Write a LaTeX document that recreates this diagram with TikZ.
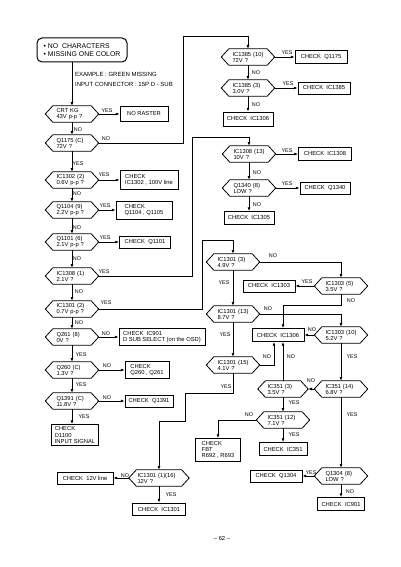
\documentclass[tikz,border=0pt]{standalone}
\usepackage{fontspec}
\setmainfont{Liberation Sans}
\usetikzlibrary{arrows.meta}
\begin{document}
\begin{tikzpicture}[x=1pt,y=-1pt,
  base/.style={font=\fontsize{5.8}{6.1}\selectfont},
  hexa/.style={base, rectangle, minimum width=53pt, minimum height=16pt,
    text width=31pt, align=left, inner xsep=1pt, inner ysep=1pt,
    append after command={\pgfextra{\draw[line width=0.8pt]
      (\tikzlastnode.west) -- ([xshift=7.5pt]\tikzlastnode.north west)
      -- ([xshift=-7.5pt]\tikzlastnode.north east) -- (\tikzlastnode.east)
      -- ([xshift=-7.5pt]\tikzlastnode.south east)
      -- ([xshift=7.5pt]\tikzlastnode.south west) -- cycle;}}},
  box/.style={base, draw, line width=0.8pt, rectangle, minimum height=12pt, inner xsep=3pt, inner ysep=1.5pt},
  mbox/.style={box, align=left},
  startbox/.style={draw, line width=1pt, rounded corners=5pt, align=left,
    font=\fontsize{6.9}{8.2}\selectfont, minimum width=90pt, minimum height=24pt, inner xsep=4pt},
  note/.style={font=\fontsize{6}{6.5}\selectfont, inner sep=0pt, anchor=west},
  lab/.style={font=\fontsize{5.4}{5.4}\selectfont, inner sep=0pt},
  arr/.style={line width=0.8pt, -{Latex[length=3.8pt,width=3pt]}},
]
\fill[white] (0,0) rectangle (400,567);
\useasboundingbox (0,0) rectangle (400,567);

% start
\node[startbox] (s) at (82,50) {\textbullet\ NO\ \ CHARACTERS\\\textbullet\ MISSING ONE COLOR};
\node[note] (e1) at (75,74) {EXAMPLE : GREEN MISSING};
\node[note] (e2) at (75,84) {INPUT CONNECTOR : 15P D - SUB};

% left column
\node[hexa] (d1) at (72,114) {CRT KG\\43V p-p ?};
\node[hexa] (d2) at (72,143) {Q1175 (C)\\72V ?};
\node[hexa] (d5) at (72,180) {IC1302 (2)\\0.6V p-p ?};
\node[hexa] (d6) at (72,210) {Q1104 (9)\\2.2V p-p ?};
\node[hexa] (d7) at (72,242) {Q1101 (6)\\2.1V p-p ?};
\node[hexa] (d8) at (72,276) {IC1308 (1)\\2.1V ?};
\node[hexa] (d11) at (72,309) {IC1301 (2)\\0.7V p-p ?};
\node[hexa] (d22) at (72,337) {Q261 (8)\\0V ?};
\node[hexa] (d23) at (72,370) {Q260 (C)\\1.3V ?};
\node[hexa] (d24) at (72,401) {Q1391 (C)\\11.8V ?};

\node[box, minimum width=48pt, minimum height=15pt] (b1) at (144,114) {NO RASTER};
\node[mbox, minimum width=58pt, minimum height=19pt] (b5) at (149,180) {CHECK\\IC1302 , 100V line};
\node[mbox, minimum width=56pt, minimum height=18pt] (b6) at (144,210) {CHECK\\Q1104 , Q1105};
\node[box, minimum width=51pt] (b7) at (145,242) {CHECK\ \ Q1101};
\node[mbox, minimum width=86pt, minimum height=17pt] (b22) at (162,337) {CHECK\ \ IC901\\D SUB SELECT (on the OSD)};
\node[mbox, minimum width=44pt, minimum height=17pt] (b23) at (147,370) {CHECK\\Q260 , Q261};
\node[box, minimum width=48pt] (b24) at (149,401) {CHECK\ \ Q1391};
\node[mbox, minimum width=46pt, minimum height=21pt] (bd) at (75,435) {CHECK\\D1100\\INPUT SIGNAL};

% upper right
\node[hexa] (d3) at (248,57) {IC1385 (10)\\72V ?};
\node[hexa] (d4) at (248,88) {IC1385 (3)\\3.0V ?};
\node[box, minimum width=52pt, minimum height=13pt] (b3) at (321,57) {CHECK\ \ Q1175};
\node[box, minimum width=52pt] (b4) at (324,88) {CHECK\ \ IC1385};
\node[box, minimum width=50pt, minimum height=14pt] (b4n) at (248,119) {CHECK\ \ IC1306};

\node[hexa] (d9) at (249,154) {IC1308 (13)\\10V ?};
\node[hexa] (d10) at (249,188) {Q1340 (8)\\LOW ?};
\node[box, minimum width=53pt, minimum height=13pt] (b9) at (325,154) {CHECK\ \ IC1308};
\node[box, minimum width=50pt] (b10) at (325,188) {CHECK\ \ Q1340};
\node[box, minimum width=50pt, minimum height=13pt] (b10n) at (249,218) {CHECK\ \ IC1305};

% lower right
\node[hexa] (d12) at (233,262) {IC1301 (3)\\4.9V ?};
\node[hexa] (d14) at (233,314) {IC1301 (13)\\8.7V ?};
\node[hexa] (d16) at (233,365) {IC1301 (15)\\4.1V ?};
\node[hexa] (d13) at (341,286) {IC1303 (5)\\3.5V ?};
\node[hexa] (d15) at (341,335) {IC1303 (10)\\5.2V ?};
\node[hexa] (d17) at (341,389) {IC351 (14)\\6.8V ?};
\node[hexa, minimum width=50pt] (d18) at (283,389) {IC351 (3)\\3.5V ?};
\node[hexa] (d19) at (283,420) {IC351 (12)\\7.1V ?};
\node[hexa] (d21) at (341,476) {Q1304 (8)\\LOW ?};
\node[hexa, minimum width=60pt, text width=43pt] (d20) at (159,478) {IC1301 (1)(16)\\12V ?};

\node[box, minimum width=52pt] (b13) at (269,286) {CHECK\ \ IC1303};
\node[box, minimum width=52pt, minimum height=13pt] (bx) at (278,335) {CHECK\ \ IC1306};
\node[box, minimum width=48pt, minimum height=13pt] (b19) at (283,449) {CHECK\ \ IC351};
\node[mbox, minimum width=45pt, minimum height=23pt] (bf) at (218,450) {CHECK\\FBT\\R692 , R693};
\node[box, minimum width=52pt] (b21) at (276,476) {CHECK\ \ Q1304};
\node[box, minimum width=47pt, minimum height=13pt] (b901) at (341,504) {CHECK\ \ IC901};
\node[box, minimum width=56pt] (b12v) at (85,478) {CHECK\ \ 12V line};
\node[box, minimum width=53pt] (b1301) at (159,509) {CHECK\ \ IC1301};

% bend points
\coordinate (k1) at (183,36);
\coordinate (k2) at (192,137);
\coordinate (k3) at (202,240);
\coordinate (k5) at (283,305);
\coordinate (k7) at (185,393);
\coordinate (k8) at (159,421);

% connectors
\draw[arr] (s.south -| d1.north) -- (d1.north);
\draw[arr] (d1.east) -- (b1.west);
\draw[arr] (d1.south) -- (d2.north);
\draw[arr] (d2.east) -| (k1) -| (d3.north);
\draw[arr] (d2.south) -- (d5.north);
\draw[arr] (d5.east) -- (b5.west);
\draw[arr] (d5.south) -- (d6.north);
\draw[arr] (d6.east) -- (b6.west);
\draw[arr] (d6.south) -- (d7.north);
\draw[arr] (d7.east) -- (b7.west);
\draw[arr] (d7.south) -- (d8.north);
\draw[arr] (d8.east) -| (k2) -| (d9.north);
\draw[arr] (d8.south) -- (d11.north);
\draw[arr] (d11.east) -| (k3) -| (d12.north);
\draw[arr] (d11.south) -- (d22.north);
\draw[arr] (d22.east) -- (b22.west);
\draw[arr] (d22.south) -- (d23.north);
\draw[arr] (d23.east) -- (b23.west);
\draw[arr] (d23.south) -- (d24.north);
\draw[arr] (d24.east) -- (b24.west);
\draw[arr] (d24.south) -- (bd.north -| d24.south);

\draw[arr] (d3.east) -- (b3.west);
\draw[arr] (d3.south) -- (d4.north);
\draw[arr] (d4.east) -- (b4.west);
\draw[arr] (d4.south) -- (b4n.north);
\draw[arr] (d9.east) -- (b9.west);
\draw[arr] (d9.south) -- (d10.north);
\draw[arr] (d10.east) -- (b10.west);
\draw[arr] (d10.south) -- (b10n.north);

\draw[arr] (d12.east) -| (d13.north);
\draw[arr] (d12.south) -- (d14.north);
\draw[arr] (d13.west) -- (b13.east);
\draw[arr] (d13.south) |- (k5) -- (k5 |- bx.north);
\draw[arr] (d14.east) -| (d15.north);
\draw[arr] (d14.south) -- (d16.north);
\draw[arr] (d15.west) -- (bx.east);
\draw[arr] (d15.south) -- (d17.north);
\draw[arr] (d16.east) -| ([xshift=-4pt]bx.south);
\draw[arr] (d16.south) |- (k7) |- (k8) -- (d20.north);
\draw[arr] (d17.west) -- (d18.east);
\draw[arr] (d18.north) -- (d18.north |- bx.south);
\draw[arr] (d18.south) -- (d19.north);
\draw[arr] (d19.west) -| (bf.north);
\draw[arr] (d19.south) -- (b19.north);
\draw[arr] (d17.south) -- (d21.north);
\draw[arr] (d21.west) -- (b21.east);
\draw[arr] (d21.south) -- (b901.north);
\draw[arr] (d20.west) -- (b12v.east);
\draw[arr] (d20.south) -- (b1301.north);

% labels
\node[lab] (y1) at (107,111) {YES};
\node[lab] (n1) at (78,130) {NO};
\node[lab] (n2) at (106,139) {NO};
\node[lab] (y2) at (78,164) {YES};
\node[lab] (y5) at (104,175) {YES};
\node[lab] (n5) at (77,194) {NO};
\node[lab] (y6) at (105,206) {YES};
\node[lab] (n6) at (77,228) {NO};
\node[lab] (y7) at (105,238) {YES};
\node[lab] (n7) at (77,259) {NO};
\node[lab] (y8) at (104,272) {YES};
\node[lab] (n8) at (79,292) {NO};
\node[lab] (y11) at (106,303) {YES};
\node[lab] (n11) at (79,323) {NO};
\node[lab] (n22) at (106,334) {NO};
\node[lab] (y22) at (81,355) {YES};
\node[lab] (n23) at (107,366) {NO};
\node[lab] (y23) at (81,385) {YES};
\node[lab] (n24) at (107,398) {NO};
\node[lab] (y24) at (84,417) {YES};
\node[lab] (y3) at (287,53) {YES};
\node[lab] (n3) at (256,73) {NO};
\node[lab] (y4) at (288,84) {YES};
\node[lab] (n4) at (256,105) {NO};
\node[lab] (y9) at (287,151) {YES};
\node[lab] (n9) at (257,173) {NO};
\node[lab] (y10) at (287,184) {YES};
\node[lab] (n10) at (257,205) {NO};
\node[lab] (n12) at (273,256) {NO};
\node[lab] (y12) at (224,283) {YES};
\node[lab] (y13) at (307,282) {YES};
\node[lab] (n13) at (351,301) {NO};
\node[lab] (n14) at (268,309) {NO};
\node[lab] (y14) at (225,335) {YES};
\node[lab] (n15) at (312,330) {NO};
\node[lab] (n16) at (267,357) {NO};
\node[lab] (y16) at (226,387) {YES};
\node[lab] (n18) at (291,357) {NO};
\node[lab] (y15) at (352,357) {YES};
\node[lab] (n17) at (311,381) {NO};
\node[lab] (y18) at (294,403) {YES};
\node[lab] (n19) at (249,415) {NO};
\node[lab] (y19) at (294,435) {YES};
\node[lab] (y17) at (352,415) {YES};
\node[lab] (y21) at (311,473) {YES};
\node[lab] (n21) at (350,492) {NO};
\node[lab] (n20) at (125,476) {NO};
\node[lab] (y20) at (171,495) {YES};

\node[font=\fontsize{5.8}{6}\selectfont, inner sep=0pt] (pg) at (222,538) {-- 62 --};
\end{tikzpicture}
\end{document}
